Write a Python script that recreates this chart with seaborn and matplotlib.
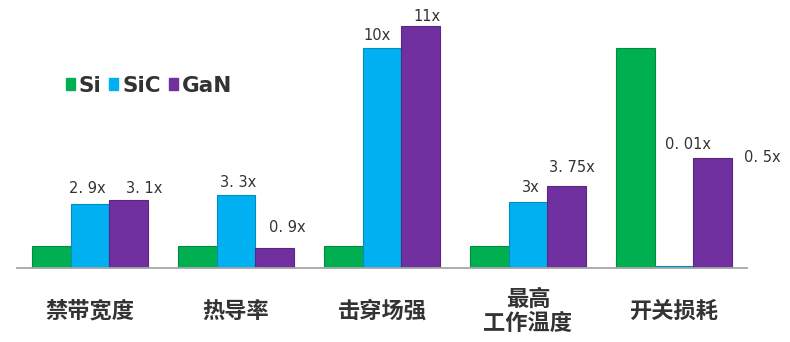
import matplotlib
matplotlib.use("Agg")
import matplotlib.pyplot as plt
import matplotlib.colors as mcolors
from matplotlib.patches import Patch
import seaborn as sns
import pandas as pd

# Data: each material relative to Si (Si reference level per category)
categories = ["禁带宽度", "热导率", "击穿场强", "最高\n工作温度", "开关损耗"]
materials = ["Si", "SiC", "GaN"]
si_level = [1, 1, 1, 1, 10]
sic_ratio = [2.9, 3.3, 10, 3, 0.01]
gan_ratio = [3.1, 0.9, 11, 3.75, 0.5]

colors = {"Si": "#00b050", "SiC": "#00b0f0", "GaN": "#7030a0"}

rows = []
for i, cat in enumerate(categories):
    rows.append((cat, "Si", si_level[i], None))
    rows.append((cat, "SiC", si_level[i] * sic_ratio[i], sic_ratio[i]))
    rows.append((cat, "GaN", si_level[i] * gan_ratio[i], gan_ratio[i]))
df = pd.DataFrame(rows, columns=["category", "material", "value", "ratio"])

sns.set_style("white")
plt.rcParams["font.family"] = ["Noto Sans CJK SC", "DejaVu Sans"]

W, H = 790, 342
fig = plt.figure(figsize=(W / 100, H / 100), dpi=100)
ax_left, ax_right, base_y = 17, 747, 268
ax = fig.add_axes([ax_left / W, (H - base_y) / H, (ax_right - ax_left) / W, base_y / H])

sns.barplot(data=df, x="category", y="value", hue="material", order=categories,
            hue_order=materials, palette=colors, width=0.79, saturation=1,
            legend=False, ax=ax)

for cont in ax.containers:
    for p in cont:
        fc = mcolors.to_rgb(p.get_facecolor())
        p.set_edgecolor(tuple(c * 0.8 for c in fc))
        p.set_linewidth(0.8)

ax.set_ylim(0, base_y / 22.0)
ax.set_xlim(-0.5, len(categories) - 0.5)
ax.set_xlabel("")
ax.set_ylabel("")
ax.set_yticks([])
for s in ["top", "right", "left"]:
    ax.spines[s].set_visible(False)
ax.spines["bottom"].set_color("#a6a6a6")
ax.spines["bottom"].set_linewidth(1.3)

ax.set_xticks(range(len(categories)))
ax.set_xticklabels(categories, fontsize=16, fontweight="bold", color="#333333",
                   linespacing=1.05)
ax.tick_params(axis="x", length=0, pad=31)
for t in ax.get_xticklabels():
    t.set_verticalalignment("center")

# Value labels above the SiC and GaN bars (pixel offsets from bar top centre)
offsets = {
    ("SiC", 0): (-3, 8, "bottom"), ("GaN", 0): (16, 4, "bottom"),
    ("SiC", 1): (2, 5, "bottom"), ("GaN", 1): (13, 13, "bottom"),
    ("SiC", 2): (-5, 5, "bottom"), ("GaN", 2): (7, 2, "bottom"),
    ("SiC", 3): (3, 7, "bottom"), ("GaN", 3): (5, 10, "bottom"),
    ("SiC", 4): (14, 114, "bottom"), ("GaN", 4): (50, 0, "center"),
}
ratios = {"SiC": sic_ratio, "GaN": gan_ratio}
for m_idx, m in enumerate(materials):
    if m == "Si":
        continue
    for i, p in enumerate(ax.containers[m_idx]):
        r = ratios[m][i]
        txt = f"{r:g}x".replace(".", ". ")
        dx, dy, va = offsets[(m, i)]
        ax.annotate(txt, (p.get_x() + p.get_width() / 2, p.get_height()),
                    xytext=(dx, dy), textcoords="offset pixels",
                    ha="center", va=va, fontsize=10.5, color="#333333",
                    family="DejaVu Sans")

handles = [Patch(facecolor=colors[m], edgecolor=colors[m]) for m in materials]
ax.legend(handles, materials, loc="center left", bbox_to_anchor=(0.04, 0.68),
          ncol=3, frameon=False, handlelength=0.42, handleheight=0.42,
          handletextpad=0.2, columnspacing=0.35,
          prop={"family": "DejaVu Sans", "weight": "bold", "size": 15.5},
          labelcolor="#333333")

fig.savefig("out.png", dpi=100, facecolor="white")
